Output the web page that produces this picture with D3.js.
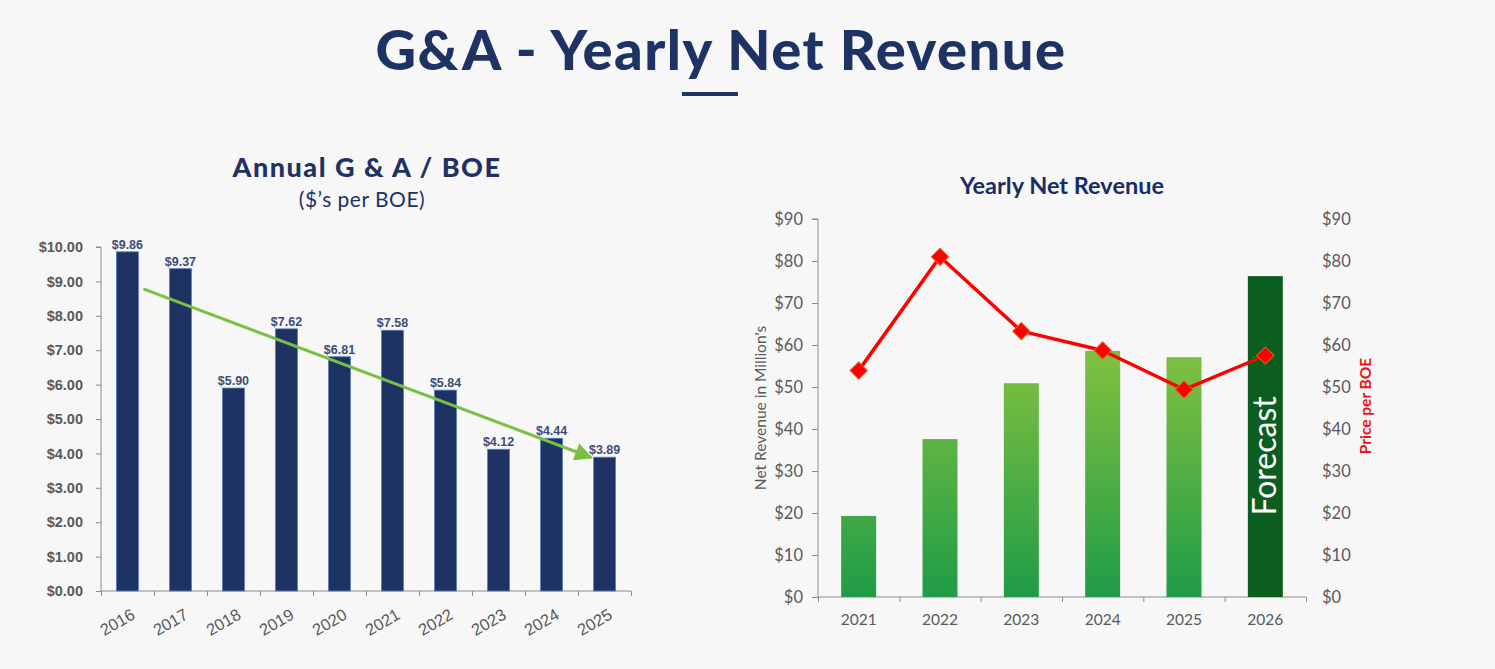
<!DOCTYPE html>
<html>
<head>
<meta charset="utf-8">
<script src="https://cdn.jsdelivr.net/npm/d3@7"></script>
<style>
  html, body { margin: 0; padding: 0; background: #f7f7f7; }
  svg { display: block; }
</style>
</head>
<body>
<svg id="chart" width="1495" height="669"></svg>
<script>
// left chart data
const gaYears = ["2016", "2017", "2018", "2019", "2020", "2021", "2022", "2023", "2024", "2025"];
const gaValues = [9.86, 9.37, 5.90, 7.62, 6.81, 7.58, 5.84, 4.12, 4.44, 3.89];
const gaTicks = [0, 1, 2, 3, 4, 5, 6, 7, 8, 9, 10];
// trend arrow: [band position, value]
const trendStart = [0.3, 8.78];
const trendEnd = [8.75, 3.88];

// right chart data
const revYears = ["2021", "2022", "2023", "2024", "2025", "2026"];
const revValues = [19.3, 37.6, 50.9, 58.6, 57.1, 76.4];
const priceValues = [53.9, 81.0, 63.3, 58.7, 49.4, 57.5];
const revTicks = [0, 10, 20, 30, 40, 50, 60, 70, 80, 90];

const navy = "#1f3264";
const gray = "#595959";
const svg = d3.select("#chart");

// page title
svg.append("text")
  .attr("x", 721).attr("y", 70)
  .attr("text-anchor", "middle")
  .attr("font-family", "Lato")
  .attr("font-weight", 900)
  .attr("font-size", 56)
  .attr("letter-spacing", 1.5)
  .attr("fill", navy)
  .text("G&A - Yearly Net Revenue");

svg.append("rect")
  .attr("x", 682).attr("y", 92)
  .attr("width", 56).attr("height", 4)
  .attr("fill", navy);

// ---------- left chart ----------
const L = { left: 101, right: 631, top: 247, bottom: 591 };

svg.append("text")
  .attr("x", 367).attr("y", 177)
  .attr("text-anchor", "middle")
  .attr("font-family", "Lato")
  .attr("font-weight", 900)
  .attr("font-size", 27)
  .attr("letter-spacing", 1.5)
  .attr("fill", navy)
  .text("Annual G & A / BOE");

svg.append("text")
  .attr("x", 362).attr("y", 207)
  .attr("text-anchor", "middle")
  .attr("font-family", "Lato")
  .attr("font-size", 21)
  .attr("letter-spacing", 0.5)
  .attr("fill", navy)
  .text("($\u2019s per BOE)");

const xL = d3.scaleBand()
  .domain(gaYears)
  .range([L.left, L.right])
  .paddingInner(0.585)
  .paddingOuter(0.29);

const xLEdge = d3.scaleLinear().domain([0, gaYears.length]).range([L.left, L.right]);

const yL = d3.scaleLinear()
  .domain([0, 10])
  .range([L.bottom, L.top]);

const yAxisL = svg.append("g")
  .attr("transform", `translate(${L.left},0)`)
  .call(d3.axisLeft(yL).tickValues(gaTicks).tickFormat(d => "$" + d3.format(".2f")(d)).tickSize(5).tickPadding(13));

yAxisL.selectAll("text")
  .attr("font-family", "Liberation Sans, Arial")
  .attr("font-weight", "bold")
  .attr("font-size", 14.5)
  .attr("fill", gray);
yAxisL.selectAll("line, path").attr("stroke", "#8c8c8c");
yAxisL.select(".domain").attr("d", `M-5,${L.top}H0V${L.bottom}`);

// x axis line with ticks at band edges
const xAxisL = svg.append("g")
  .attr("transform", `translate(0,${L.bottom})`)
  .call(d3.axisBottom(xLEdge).tickValues(d3.range(0, gaYears.length + 1)).tickSize(5).tickFormat(""));
xAxisL.selectAll("line, path").attr("stroke", "#8c8c8c");
xAxisL.select(".domain").attr("d", `M${L.left},0H${L.right}`);

svg.append("g")
  .selectAll("text")
  .data(gaYears)
  .join("text")
  .attr("transform", d => `translate(${xL(d) + xL.bandwidth() / 2 + 3},${L.bottom + 17}) rotate(-30)`)
  .attr("text-anchor", "end")
  .attr("dy", "0.7em")
  .attr("font-family", "Liberation Sans, Arial")
  .attr("font-size", 16.5)
  .attr("fill", gray)
  .text(d => d);

svg.append("g")
  .selectAll("rect")
  .data(gaValues)
  .join("rect")
  .attr("x", (d, i) => xL(gaYears[i]))
  .attr("y", d => yL(d))
  .attr("width", xL.bandwidth())
  .attr("height", d => yL(0) - yL(d))
  .attr("fill", navy)
  .attr("stroke", "#5b7fb8")
  .attr("stroke-width", 0.8);

svg.append("g")
  .selectAll("text")
  .data(gaValues)
  .join("text")
  .attr("x", (d, i) => xL(gaYears[i]) + xL.bandwidth() / 2)
  .attr("y", d => yL(d) - 3)
  .attr("text-anchor", "middle")
  .attr("font-family", "Liberation Sans, Arial")
  .attr("font-weight", "bold")
  .attr("font-size", 12.5)
  .attr("fill", "#3b4d78")
  .text(d => "$" + d3.format(".2f")(d));

// trend arrow
const defs = svg.append("defs");
defs.append("marker")
  .attr("id", "arrow")
  .attr("viewBox", "0 0 10 10")
  .attr("refX", 9).attr("refY", 5)
  .attr("markerWidth", 7).attr("markerHeight", 6)
  .attr("markerUnits", "strokeWidth")
  .attr("orient", "auto")
  .append("path")
  .attr("d", "M0,0L10,5L0,10Z")
  .attr("fill", "#7ac143");

svg.append("line")
  .attr("x1", xLEdge(trendStart[0] + 0.5)).attr("y1", yL(trendStart[1]))
  .attr("x2", xLEdge(trendEnd[0] + 0.5)).attr("y2", yL(trendEnd[1]))
  .attr("stroke", "#7ac143")
  .attr("stroke-width", 3)
  .attr("marker-end", "url(#arrow)");

// ---------- right chart ----------
const R = { left: 818, right: 1306, top: 219, bottom: 597 };

svg.append("text")
  .attr("x", 1062).attr("y", 194)
  .attr("text-anchor", "middle")
  .attr("font-family", "Lato")
  .attr("font-weight", "bold")
  .attr("font-size", 23.5)
  .attr("fill", "#1a2c66")
  .text("Yearly Net Revenue");

const xR = d3.scaleBand()
  .domain(revYears)
  .range([R.left, R.right])
  .paddingInner(0.57)
  .paddingOuter(0.285);

const xREdge = d3.scaleLinear().domain([0, revYears.length]).range([R.left, R.right]);

const yR = d3.scaleLinear()
  .domain([0, 90])
  .range([R.bottom, R.top]);

const yAxisR = svg.append("g")
  .attr("transform", `translate(${R.left},0)`)
  .call(d3.axisLeft(yR).tickValues(revTicks).tickFormat(d => "$" + d).tickSize(6).tickPadding(9));
yAxisR.selectAll("line, path").attr("stroke", "#8c8c8c");
yAxisR.select(".domain").attr("d", `M-6,${R.top}H0V${R.bottom}`);

const yAxisR2 = svg.append("g")
  .attr("transform", `translate(${R.left + (R.right - R.left)},0)`)
  .call(d3.axisRight(yR).tickValues(revTicks).tickFormat(d => "$" + d).tickSize(0).tickPadding(16));
yAxisR2.select(".domain").remove();

[yAxisR, yAxisR2].forEach(g => g.selectAll("text")
  .attr("font-family", "Lato")
  .attr("font-size", 16.5)
  .attr("fill", gray));

const xAxisR = svg.append("g")
  .attr("transform", `translate(0,${R.bottom})`)
  .call(d3.axisBottom(xREdge).tickValues(d3.range(0, revYears.length + 1)).tickSize(5).tickFormat(""));
xAxisR.selectAll("line, path").attr("stroke", "#8c8c8c");
xAxisR.select(".domain").attr("d", `M${R.left},0H${R.right}`);

svg.append("g")
  .selectAll("text")
  .data(revYears)
  .join("text")
  .attr("x", d => xR(d) + xR.bandwidth() / 2)
  .attr("y", R.bottom + 28)
  .attr("text-anchor", "middle")
  .attr("font-family", "Lato")
  .attr("font-size", 15.5)
  .attr("fill", gray)
  .text(d => d);

svg.append("text")
  .attr("transform", `translate(766,${(R.top + R.bottom) / 2}) rotate(-90)`)
  .attr("text-anchor", "middle")
  .attr("font-family", "Lato")
  .attr("font-size", 15.5)
  .attr("fill", gray)
  .text("Net Revenue in Million's");

svg.append("text")
  .attr("transform", `translate(1371,${(R.top + R.bottom) / 2 - 2}) rotate(-90)`)
  .attr("text-anchor", "middle")
  .attr("font-family", "Lato")
  .attr("font-weight", "bold")
  .attr("font-size", 15.5)
  .attr("fill", "#e8141b")
  .text("Price per BOE");

const grad = defs.append("linearGradient")
  .attr("id", "greenGrad")
  .attr("gradientUnits", "userSpaceOnUse")
  .attr("x1", 0).attr("x2", 0)
  .attr("y1", yR(55)).attr("y2", R.bottom);
grad.append("stop").attr("offset", "0%").attr("stop-color", "#7cbf40");
grad.append("stop").attr("offset", "100%").attr("stop-color", "#1f9c47");

const lastYear = revYears[revYears.length - 1];

svg.append("g")
  .selectAll("rect")
  .data(revValues)
  .join("rect")
  .attr("x", (d, i) => xR(revYears[i]))
  .attr("y", d => yR(d))
  .attr("width", xR.bandwidth())
  .attr("height", d => yR(0) - yR(d))
  .attr("fill", (d, i) => revYears[i] === lastYear ? "#0c5e20" : "url(#greenGrad)");

svg.append("text")
  .attr("transform", `translate(${xR(lastYear) + xR.bandwidth() / 2 + 11},${yR(33.6)}) rotate(-90)`)
  .attr("text-anchor", "middle")
  .attr("font-family", "Lato")
  .attr("font-size", 32)
  .attr("fill", "#ffffff")
  .text("Forecast");

const line = d3.line()
  .x((d, i) => xR(revYears[i]) + xR.bandwidth() / 2)
  .y(d => yR(d));

svg.append("path")
  .datum(priceValues)
  .attr("d", line)
  .attr("fill", "none")
  .attr("stroke", "#ff0000")
  .attr("stroke-width", 3.5)
  .attr("stroke-linejoin", "round");

svg.append("g")
  .selectAll("path")
  .data(priceValues)
  .join("path")
  .attr("d", d3.symbol().type(d3.symbolSquare).size(150))
  .attr("transform", (d, i) => `translate(${xR(revYears[i]) + xR.bandwidth() / 2},${yR(d)}) rotate(45)`)
  .attr("fill", "#ff0000")
  .attr("stroke", "#f05a1a")
  .attr("stroke-width", 1);
</script>
</body>
</html>
